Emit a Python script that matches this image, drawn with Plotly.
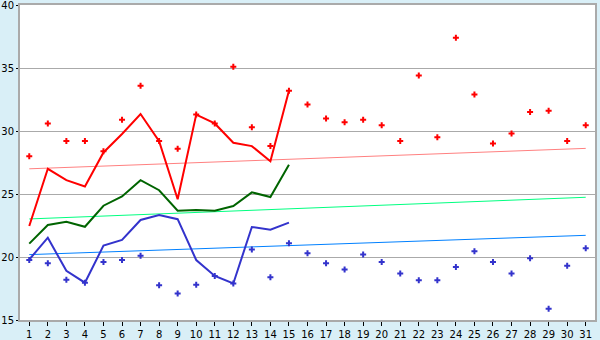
import plotly.graph_objects as go

days = list(range(1, 32))
day_labels = [str(d) for d in days]

red_points = [28.0, 30.6, 29.2, 29.2, 28.4, 30.9, 33.6, 29.2, 28.6, 31.3,
              30.6, 35.1, 30.3, 28.8, 33.2, 32.1, 31.0, 30.7, 30.9, 30.45,
              29.2, 34.4, 29.5, 37.4, 32.9, 29.0, 29.8, 31.5, 31.6, 29.2, 30.45]
blue_points = [19.76, 19.5, 18.2, 17.96, 19.6, 19.76, 20.1, 17.75, 17.1, 17.8,
               18.5, 17.9, 20.6, 18.4, 21.1, 20.3, 19.5, 19.0, 20.2, 19.6,
               18.7, 18.15, 18.15, 19.2, 20.45, 19.6, 18.7, 19.9, 15.9, 19.3, 20.7]

line_days = list(range(1, 16))
red_line = [22.46, 27.0, 26.1, 25.6, 28.3, 29.76, 31.35, 29.2, 24.58, 31.3,
            30.6, 29.07, 28.8, 27.6, 33.2]
green_line = [21.06, 22.54, 22.8, 22.4, 24.07, 24.8, 26.1, 25.3, 23.68, 23.73,
              23.68, 24.05, 25.13, 24.76, 27.33]
blue_line = [19.8, 21.53, 18.9, 17.96, 20.9, 21.35, 22.94, 23.33, 23.0, 19.76,
             18.5, 17.9, 22.38, 22.17, 22.73]

trend_days = [1, 31]
red_trend = [27.0, 28.62]
green_trend = [23.02, 24.74]
blue_trend = [20.19, 21.72]

fig = go.Figure()

fig.add_trace(go.Scatter(x=trend_days, y=red_trend, mode="lines",
                         line=dict(color="#ff8080", width=1)))
fig.add_trace(go.Scatter(x=trend_days, y=green_trend, mode="lines",
                         line=dict(color="#00ff80", width=1)))
fig.add_trace(go.Scatter(x=trend_days, y=blue_trend, mode="lines",
                         line=dict(color="#0080ff", width=1)))

fig.add_trace(go.Scatter(x=line_days, y=red_line, mode="lines",
                         line=dict(color="#ff0000", width=2)))
fig.add_trace(go.Scatter(x=line_days, y=green_line, mode="lines",
                         line=dict(color="#006400", width=2)))
fig.add_trace(go.Scatter(x=line_days, y=blue_line, mode="lines",
                         line=dict(color="#3333cc", width=2)))

fig.add_trace(go.Scatter(x=days, y=red_points, mode="markers",
                         marker=dict(symbol="cross", size=5, color="#ff0000", line=dict(width=0))))
fig.add_trace(go.Scatter(x=days, y=blue_points, mode="markers",
                         marker=dict(symbol="cross", size=5, color="#3333cc", line=dict(width=0))))

fig.update_layout(
    width=600, height=340,
    margin=dict(l=20, r=5, t=5, b=20),
    paper_bgcolor="#d9eff7",
    plot_bgcolor="#ffffff",
    showlegend=False,
    font=dict(family="DejaVu Sans", size=10, color="#000000"),
)
fig.update_xaxes(
    range=[0.5, 31.5], tickmode="array", tickvals=days, ticktext=day_labels,
    showgrid=False, showline=True, linecolor="#aaaaaa", linewidth=2, mirror=True,
    ticks="outside", ticklen=4, tickcolor="#000000", tickwidth=1, zeroline=False,
    automargin=False, ticklabeloverflow="allow",
)
fig.update_yaxes(
    range=[15, 40], tickvals=[15, 20, 25, 30, 35, 40],
    showgrid=True, gridcolor="#aaaaaa", gridwidth=1,
    showline=True, linecolor="#aaaaaa", linewidth=2, mirror=True,
    ticks="outside", ticklen=2, tickcolor="#000000", tickwidth=1, zeroline=False,
    automargin=False, ticklabeloverflow="allow",
)

fig.write_html("out.html")
